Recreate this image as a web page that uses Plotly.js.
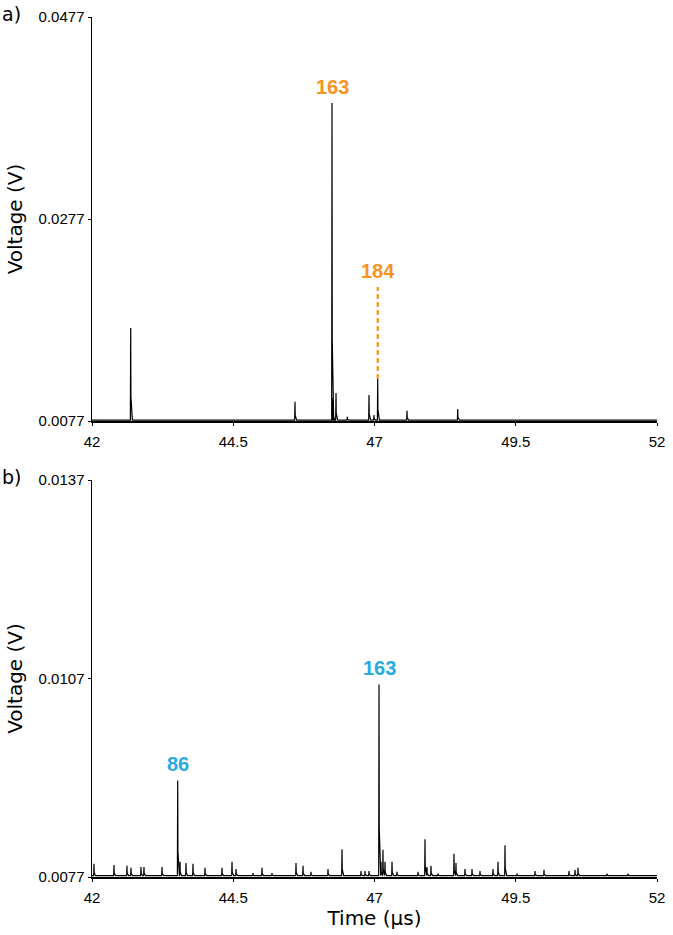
<!DOCTYPE html>
<html>
<head>
<meta charset="utf-8">
<script src="https://cdn.plot.ly/plotly-3.0.1.min.js"></script>
<style>
  body { margin: 0; background: #fff; }
  #grafico { width: 673px; height: 935px; }
</style>
</head>
<body>
<div id="grafico"></div>
<script>
// Painel a) picos (tempo em µs, tensão em V)
const tempoA = [42.685, 45.593, 46.248, 46.265, 46.319, 46.52, 46.903, 46.991, 47.057, 47.575, 48.473];
const tensaoA = [0.01691, 0.00961, 0.03918, 0.00998, 0.01047, 0.00812, 0.01027, 0.00829, 0.01186, 0.00872, 0.00889];
const baseA = 0.00779;

// Painel b) picos
const tempoB = [42.035, 42.389, 42.619, 42.690, 42.867, 42.920, 43.239, 43.517, 43.558, 43.664,
  43.788, 44.0, 44.301, 44.478, 44.549, 44.850, 45.009, 45.186, 45.611, 45.735,
  45.876, 46.177, 46.425, 46.761, 46.832, 46.903, 47.080, 47.115, 47.150, 47.186,
  47.310, 47.398, 47.770, 47.894, 47.929, 48.0, 48.124, 48.407, 48.442, 48.602,
  48.726, 48.867, 49.097, 49.186, 49.310, 49.522, 49.841, 50.0, 50.442, 50.549,
  50.602, 51.115, 51.487];
const tensaoB = [0.00790, 0.00788, 0.00787, 0.00784, 0.00785, 0.00785, 0.00785, 0.00916, 0.00793, 0.00791,
  0.00790, 0.00784, 0.00784, 0.00793, 0.00782, 0.00776, 0.00784, 0.00776, 0.00791, 0.00787,
  0.00778, 0.00782, 0.00812, 0.00779, 0.00779, 0.00779, 0.01061, 0.00793, 0.00811, 0.00793,
  0.00793, 0.00778, 0.00778, 0.00827, 0.00785, 0.00787, 0.00775, 0.00805, 0.00791, 0.00782,
  0.00782, 0.00779, 0.00782, 0.00793, 0.00818, 0.00775, 0.00779, 0.00781, 0.00779, 0.00781,
  0.00784, 0.00775, 0.00775];
const baseB = 0.00772;

// Rótulos
const rotulosA = ['163', '184'];
const rotuloTempoA = [46.248, 47.057];
const rotuloTensaoA = [0.03918, 0.02097];
const rotulosB = ['86', '163'];
const rotuloTempoB = [43.517, 47.080];
const rotuloTensaoB = [0.00916, 0.01061];
const linha184 = { t: 47.057, y0: 0.01186, y1: 0.02097 };

const ticksX = [42, 44.5, 47, 49.5, 52];
const ticksYA = [0.0077, 0.0277, 0.0477];
const ticksYB = [0.0077, 0.0107, 0.0137];

const laranja = 'rgb(247,147,30)';
const azul = 'rgb(41,171,226)';
const familia = '"Liberation Sans", Arial, sans-serif';
const familiaTitulo = '"DejaVu Sans", sans-serif';

// monta o espectro a partir da lista de picos
function espectro(tempos, tensoes, base) {
  const ordem = tempos.map((t, i) => i).sort((a, b) => tempos[a] - tempos[b]);
  const x = [42], y = [base];
  ordem.forEach(i => {
    x.push(tempos[i] - 0.006, tempos[i], tempos[i] + 0.004, tempos[i] + 0.03);
    y.push(base, tensoes[i], base + (tensoes[i] - base) * 0.25, base);
  });
  x.push(52); y.push(base);
  return { x, y };
}

const eA = espectro(tempoA, tensaoA, baseA);
const eB = espectro(tempoB, tensaoB, baseB);

const traco = (e, xa, ya) => ({
  type: 'scatter', mode: 'lines', x: e.x, y: e.y, xaxis: xa, yaxis: ya,
  line: { color: 'black', width: 1.2 }, hoverinfo: 'skip', showlegend: false
});

const fonteEixo = { family: familia, size: 15, color: 'black' };

const eixoX = (anchor) => ({
  domain: [0, 1], anchor: anchor, range: [42, 52], tickvals: ticksX,
  ticktext: ticksX.map(String), ticks: 'outside', ticklen: 3, tickwidth: 1, tickcolor: 'black',
  ticklabelstandoff: 3,
  showline: true, linecolor: 'black', linewidth: 1.5, showgrid: false, zeroline: false,
  tickfont: fonteEixo
});

const eixoY = (anchor, domain, range, vals) => ({
  domain: domain, anchor: anchor, range: range, tickvals: vals,
  ticktext: vals.map(v => v.toFixed(4)), ticks: 'outside', ticklen: 3, tickwidth: 1, tickcolor: 'black',
  showline: true, linecolor: 'black', linewidth: 1.5, showgrid: false, zeroline: false,
  tickfont: fonteEixo,
  title: { text: 'Voltage (V)', font: { family: familiaTitulo, size: 20, color: 'black' }, standoff: 10 }
});

const anot = [];
rotulosA.forEach((r, i) => anot.push({
  xref: 'x', yref: 'y', x: rotuloTempoA[i], y: rotuloTensaoA[i], text: '<b>' + r + '</b>',
  showarrow: false, yanchor: 'bottom', yshift: 3, font: { family: familia, size: 20, color: laranja }
}));
rotulosB.forEach((r, i) => anot.push({
  xref: 'x2', yref: 'y2', x: rotuloTempoB[i], y: rotuloTensaoB[i], text: '<b>' + r + '</b>',
  showarrow: false, yanchor: 'bottom', yshift: 3, font: { family: familia, size: 20, color: azul }
}));
anot.push({ xref: 'paper', yref: 'paper', x: -0.163, y: 1.0, text: 'a)', showarrow: false,
  xanchor: 'left', yanchor: 'middle', yshift: 3, font: { family: familiaTitulo, size: 19, color: 'black' } });
anot.push({ xref: 'paper', yref: 'paper', x: -0.163, y: 0.4616, text: 'b)', showarrow: false,
  xanchor: 'left', yanchor: 'middle', yshift: 3, font: { family: familiaTitulo, size: 19, color: 'black' } });

const layout = {
  width: 673, height: 935,
  margin: { l: 92, r: 16, t: 17, b: 58 },
  paper_bgcolor: 'white', plot_bgcolor: 'white',
  showlegend: false,
  xaxis: eixoX('y'),
  yaxis: eixoY('x', [0.5302, 1], [0.0077, 0.0477], ticksYA),
  xaxis2: Object.assign(eixoX('y2'), {
    title: { text: 'Time (µs)', font: { family: familiaTitulo, size: 20, color: 'black' }, standoff: 3 }
  }),
  yaxis2: eixoY('x2', [0, 0.4616], [0.0077, 0.0137], ticksYB),
  annotations: anot,
  shapes: [{
    type: 'line', xref: 'x', yref: 'y', x0: linha184.t, x1: linha184.t, y0: linha184.y0, y1: linha184.y1,
    line: { color: laranja, width: 2.2, dash: '5px,3px' }
  }]
};

Plotly.newPlot('grafico', [traco(eA, 'x', 'y'), traco(eB, 'x2', 'y2')], layout, { displayModeBar: false, staticPlot: true });
</script>
</body>
</html>
